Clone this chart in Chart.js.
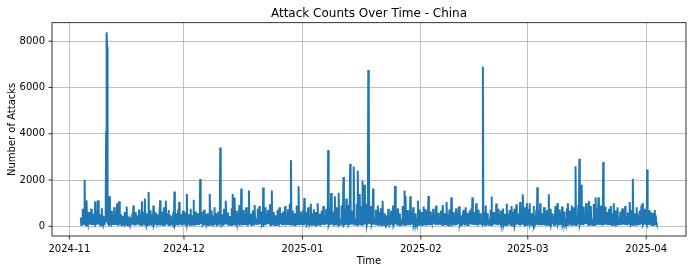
<!DOCTYPE html>
<html><head><meta charset="utf-8">
<script src="https://cdn.jsdelivr.net/npm/chart.js@4.4.1/dist/chart.umd.min.js"></script>
<style>html,body{margin:0;padding:0;background:#fff;} canvas{display:block;}</style>
</head><body>
<canvas id="c" width="693" height="273"></canvas>
<script>
const chartTitle = 'Attack Counts Over Time - China';
const xTitle = 'Time';
const yTitle = 'Number of Attacks';
// samples every 3 hours, first sample 2024-11-04 00:00 (day 3 after 2024-11-01)
const startDay = 3;
const stepDays = 0.125;

const novCounts = [
 380,60,90,240,760,110,150,320, 2000,90,300,50,1120,170,80,260, 620,140,110,380,480,70,760,200,
 90,310,540,60,200,150,1080,90, 130,240,650,80,1120,130,70,350, 520,50,180,270,780,110,60,420,
 430,90,120,210,380,4050,8380,7750, 260,120,310,80,1300,150,90,240, 680,110,150,260,540,60,820,190,
 100,340,590,70,1000,120,70,280, 1080,90,240,160,520,50,110,390, 460,130,90,220,620,80,300,140,
 850,60,120,300,420,110,60,250, 380,90,160,180,560,70,900,130, 80,360,620,100,220,60,480,170,
 140,290,720,80,90,210,540,60, 1080,120,130,330,620,90,1200,150, 80,270,560,60,240,120,1480,80,
 160,310,690,90,70,230,520,110, 900,70,140,280,610,100,90,190, 520,130,180,60,380,250,1120,90,
 110,340,640,70,260,150,820,60, 90,210,1100,120,190,300,560,80, 700,60,120,260,480,90,250,140,
 80,330,620,110,1500,70,140,220, 560,90,90,290,720,60,1050,130, 160,240,520,80,80,310,680,100
];
const decCounts = [
 120,280,600,70,380,130,1400,90, 90,250,520,110,240,60,760,170, 140,320,480,80,1150,120,70,230,
 640,60,210,290,560,100,100,350, 380,90,2040,140,150,270,620,60, 90,300,710,120,260,80,540,190,
 160,240,560,60,90,330,1400,110, 240,70,680,150,110,260,470,90, 820,120,130,310,560,60,80,220,
 640,90,200,140,3400,100,120,280, 520,60,90,330,760,120,310,80, 1100,150,140,260,600,70,80,340,
 450,110,220,60,780,190,1400,90, 130,300,1250,80,90,240,680,120, 560,70,180,350,920,110,140,210,
 1630,90,110,280,700,60,350,150, 90,320,820,100,240,70,600,230, 1550,120,150,290,540,60,90,260,
 680,80,260,170,920,110,130,330, 100,240,760,60,380,140,880,90, 200,310,640,80,130,220,1680,60,
 90,280,820,120,330,70,560,190, 700,100,140,340,950,60,80,250, 1550,90,240,150,620,70,110,300,
 480,60,90,260,700,120,300,80, 820,140,160,310,560,90,90,230, 640,70,230,180,880,110,120,340,
 100,260,740,60,380,150,960,90, 2860,80,150,290,680,120,90,240, 560,60,240,170,900,100,130,320,
 1730,90,110,280,640,70,380,140
];
const janCounts = [
 90,310,700,80,1220,120,140,250, 620,60,100,290,820,110,260,90, 140,330,980,70,300,160,560,80,
 740,120,90,270,620,60,180,350, 1000,90,220,140,540,70,90,300, 680,110,130,240,880,60,300,170,
 110,320,760,90,240,130,3300,80, 150,280,820,60,1440,110,90,330, 640,70,260,190,1300,90,120,280,
 820,130,90,310,1450,60,300,150, 160,260,900,80,420,120,2130,70, 110,340,760,100,1200,60,180,290,
 920,90,140,230,2700,70,260,150, 680,120,110,350,2580,80,340,110, 140,270,980,60,2400,130,120,320,
 1400,90,260,150,880,70,1970,110, 200,300,1800,80,340,120,960,60, 150,240,6750,5300,310,90,240,130,
 880,70,130,290,1630,110,280,60, 100,330,720,90,360,140,900,70, 620,120,140,260,780,60,90,310,
 1100,80,200,170,560,100,130,340, 480,60,90,280,760,120,300,90, 140,240,680,70,220,150,900,60,
 110,300,1740,90,260,130,620,80, 780,110,90,330,560,60,240,180, 160,270,880,80,320,120,1550,70,
 1300,90,120,300,700,60,260,150, 90,250,1300,110,380,70,640,140, 820,60,130,290,560,100,200,80,
 90,340,1100,70,260,160,720,90
];
const febCounts = [
 140,280,620,60,90,230,860,110, 300,80,740,150,120,320,560,70, 1310,100,90,260,640,60,240,170,
 120,310,760,90,330,130,520,60, 900,120,110,280,580,70,180,240, 80,330,680,100,260,60,920,150,
 140,250,560,80,90,300,1050,110, 480,60,200,190,720,90,120,320, 1250,70,100,260,620,130,280,80,
 90,300,780,60,340,150,560,100, 860,80,120,270,480,60,190,330, 90,240,720,110,240,70,820,140,
 150,310,580,60,100,250,680,90, 340,120,780,70,1250,160,110,290, 620,60,200,230,1000,90,90,320,
 720,110,140,280,560,70,300,150, 110,260,6900,90,260,130,620,60, 900,80,90,310,560,120,200,70,
 140,290,720,60,1290,150,100,240, 620,90,280,130,560,70,980,110, 90,330,760,80,200,160,520,60,
 680,120,120,270,770,90,90,300, 540,60,240,190,980,70,130,280, 100,250,700,110,360,60,880,140,
 620,80,90,320,760,100,200,70, 950,130,140,260,540,60,300,170, 1050,90,110,300,680,70,1380,120,
 90,280,820,60,260,150,1000,80
];
const marCounts = [
 140,310,760,90,1000,120,120,260, 560,60,90,290,880,110,260,80, 140,330,720,70,1690,130,90,240,
 640,100,1000,60,180,280,560,90, 100,300,820,120,300,70,680,150, 220,80,700,110,1380,60,110,320,
 760,90,90,270,560,130,340,60, 140,240,880,80,240,160,1000,70, 90,310,720,100,380,60,600,190,
 860,70,130,280,640,110,200,90, 90,330,780,60,1000,140,150,250, 680,80,260,120,900,70,110,300,
 820,90,140,260,2590,60,300,150, 120,290,920,80,2920,110,200,70, 1800,100,90,320,860,60,340,140,
 140,250,1000,90,260,170,720,60, 1100,80,120,300,880,110,300,70, 90,280,960,60,420,150,1250,90,
 160,310,780,70,1250,120,100,260, 900,60,240,190,700,80,2780,110, 130,300,860,70,300,140,620,60,
 90,260,760,100,180,290,880,80, 560,60,140,240,1000,120,90,320, 680,70,260,160,820,90,120,280,
 90,300,640,60,300,130,780,80, 720,110,110,270,880,60,180,230, 90,320,600,80,240,150,1050,70,
 140,260,700,90,2060,60,90,300, 560,120,220,70,820,150,130,280, 90,240,680,60,300,170,900,90,
 1000,70,120,310,760,100,260,130
];
const aprCounts = [
 140,90,2450,60,200,280,700,110, 90,300,620,70,260,150,580,60, 120,270,700,90,480,160,100,60
];

const xTickDays = [0, 30, 61, 92, 120, 151];
const xTickLabels = ['2024-11', '2024-12', '2025-01', '2025-02', '2025-03', '2025-04'];
const yTicks = [0, 2000, 4000, 6000, 8000];

const counts = [].concat(novCounts, decCounts, janCounts, febCounts, marCounts, aprCounts);
const points = counts.map((v, i) => ({x: startDay + i * stepDays, y: v}));
const lastDay = startDay + (counts.length - 1) * stepDays;
const xPad = (lastDay - startDay) * 0.05;
const maxVal = Math.max(...counts);
const yPad = maxVal * 0.05;

const decor = {
  id: 'decor',
  afterDraw(chart) {
    const {ctx, chartArea: a, scales: {x, y}} = chart;
    ctx.save();
    ctx.strokeStyle = '#000';
    ctx.lineWidth = 0.8;
    ctx.strokeRect(a.left, a.top, a.right - a.left, a.bottom - a.top);
    ctx.beginPath();
    xTickDays.forEach(d => { const px = x.getPixelForValue(d); ctx.moveTo(px, a.bottom); ctx.lineTo(px, a.bottom + 3.5); });
    yTicks.forEach(v => { const py = y.getPixelForValue(v); ctx.moveTo(a.left, py); ctx.lineTo(a.left - 3.5, py); });
    ctx.stroke();
    ctx.fillStyle = '#000';
    ctx.textAlign = 'center';
    ctx.textBaseline = 'alphabetic';
    ctx.font = '12px "DejaVu Sans"';
    ctx.fillText(chartTitle, (a.left + a.right) / 2, a.top - 5.5);
    ctx.font = '10px "DejaVu Sans"';
    ctx.fillText(xTitle, (a.left + a.right) / 2, 263.5);
    ctx.translate(15, (a.top + a.bottom) / 2);
    ctx.rotate(-Math.PI / 2);
    ctx.fillText(yTitle, 0, 0);
    ctx.restore();
  }
};

new Chart(document.getElementById('c'), {
  type: 'line',
  data: {
    datasets: [{
      data: points,
      borderColor: '#1f77b4',
      borderWidth: 2,
      pointRadius: 0,
      tension: 0,
      fill: false
    }]
  },
  options: {
    responsive: false,
    animation: false,
    devicePixelRatio: 1,
    layout: {padding: {top: 22.7, right: 7, left: 0, bottom: 0}},
    plugins: {legend: {display: false}, title: {display: false}, tooltip: {enabled: false}},
    scales: {
      x: {
        type: 'linear',
        min: startDay - xPad,
        max: lastDay + xPad,
        afterFit: s => { s.height = 37; },
        afterBuildTicks: s => { s.ticks = xTickDays.map(v => ({value: v})); },
        border: {display: false},
        grid: {color: '#b0b0b0', lineWidth: 0.8, drawTicks: false},
        ticks: {
          autoSkip: false, maxRotation: 0, padding: 7, color: '#000',
          font: {family: 'DejaVu Sans', size: 10},
          callback: v => { const i = xTickDays.indexOf(v); return i >= 0 ? xTickLabels[i] : ''; }
        }
      },
      y: {
        type: 'linear',
        min: -yPad,
        max: maxVal + yPad,
        afterFit: s => { s.width = 52; },
        afterBuildTicks: s => { s.ticks = yTicks.map(v => ({value: v})); },
        border: {display: false},
        grid: {color: '#b0b0b0', lineWidth: 0.8, drawTicks: false},
        ticks: {
          padding: 7, color: '#000',
          font: {family: 'DejaVu Sans', size: 10},
          callback: v => String(v)
        }
      }
    }
  },
  plugins: [decor]
});
</script>
</body></html>
